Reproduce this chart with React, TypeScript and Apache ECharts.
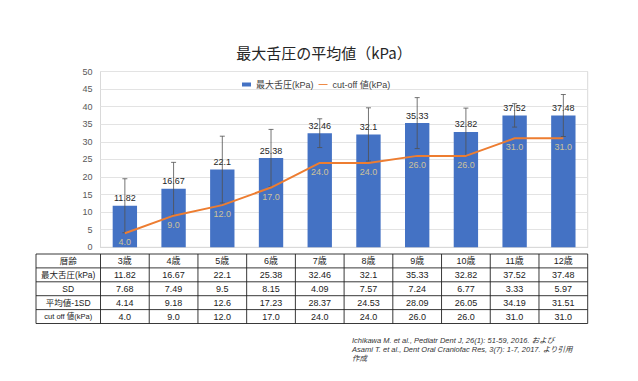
import React, { useEffect, useRef } from 'react';
import * as echarts from 'echarts';

const ages = ['3歳', '4歳', '5歳', '6歳', '7歳', '8歳', '9歳', '10歳', '11歳', '12歳'];
const meanPressure = [11.82, 16.67, 22.1, 25.38, 32.46, 32.1, 35.33, 32.82, 37.52, 37.48];
const sdValues = [7.68, 7.49, 9.5, 8.15, 4.09, 7.57, 7.24, 6.77, 3.33, 5.97];
const meanMinusSD = [4.14, 9.18, 12.6, 17.23, 28.37, 24.53, 28.09, 26.05, 34.19, 31.51];
const cutoff = [4.0, 9.0, 12.0, 17.0, 24.0, 24.0, 26.0, 26.0, 31.0, 31.0];
const rowLabels = ['暦齢', '最大舌圧(kPa)', 'SD', '平均値-1SD', 'cut off 値(kPa)'];
const seriesNames = ['最大舌圧(kPa)', 'cut-off 値(kPa)'];
const titleText = '最大舌圧の平均値（kPa）';
const citation = [
  'Ichikawa M. et al., Pediatr Dent J, 26(1): 51-59, 2016. および',
  'Asami T. et al., Dent Oral Craniofac Res, 3(7): 1-7, 2017. より引用',
  '作成',
];

const FONT = '"Liberation Sans", Arial, "Noto Sans CJK JP", sans-serif';

export default function App() {
  const ref = useRef<HTMLDivElement>(null);
  useEffect(() => {
    document.body.style.margin = '0';
    const chart = echarts.init(ref.current!, undefined, { renderer: 'svg' });
    const option: any = {
      animation: false,
      backgroundColor: '#ffffff',
      textStyle: { fontFamily: FONT },
      grid: { left: 100.5, right: 50.3, top: 71.5, bottom: 133.7, show: true, borderColor: '#d9d9d9', borderWidth: 1 },
      legend: {
        data: [
          { name: seriesNames[0], icon: 'rect' },
          { name: seriesNames[1], icon: 'path://M0,0 L20,0 L20,2 L0,2 Z', itemStyle: { color: '#ED7D31' }, lineStyle: { width: 0 } },
        ],
        top: 80,
        left: 242,
        padding: 0,
        itemWidth: 9,
        itemHeight: 4,
        itemGap: 5,
        textStyle: { fontSize: 9, color: '#404040', fontFamily: FONT },
      },
      xAxis: {
        type: 'category',
        data: ages,
        axisLabel: { show: false },
        axisTick: { show: false },
        axisLine: { lineStyle: { color: '#d9d9d9' } },
      },
      yAxis: {
        type: 'value',
        min: 0,
        max: 50,
        interval: 5,
        axisLabel: { fontSize: 9, color: '#595959', margin: 8 },
        splitLine: { lineStyle: { color: '#e3e3e3', width: 1 } },
        axisLine: { show: false },
      },
      series: [
        {
          name: seriesNames[0],
          type: 'bar',
          data: meanPressure,
          barWidth: '50%',
          itemStyle: { color: '#4472C4' },
          label: { show: true, position: 'top', distance: 3, fontSize: 9, color: '#262626' },
          z: 2,
        },
        {
          name: 'errorbar',
          type: 'custom',
          data: meanPressure.map((m, i) => [i, m - sdValues[i], m + sdValues[i]]),
          renderItem: (params: any, api: any) => {
            const x = api.value(0);
            const lo = api.coord([x, api.value(1)]);
            const hi = api.coord([x, api.value(2)]);
            const cap = 2.5;
            const style = { stroke: '#505050', lineWidth: 0.8 };
            return {
              type: 'group',
              children: [
                { type: 'line', shape: { x1: lo[0], y1: lo[1], x2: hi[0], y2: hi[1] }, style },
                { type: 'line', shape: { x1: hi[0] - cap, y1: hi[1], x2: hi[0] + cap, y2: hi[1] }, style },
                { type: 'line', shape: { x1: lo[0] - cap, y1: lo[1], x2: lo[0] + cap, y2: lo[1] }, style },
              ],
            };
          },
          z: 3,
        },
        {
          name: seriesNames[1],
          type: 'line',
          data: cutoff,
          symbol: 'none',
          lineStyle: { color: '#ED7D31', width: 2 },
          itemStyle: { color: '#ED7D31' },
          z: 4,
        },
        {
          name: 'cutoffLabels',
          type: 'scatter',
          data: cutoff,
          symbolSize: 1,
          itemStyle: { color: 'rgba(0,0,0,0)' },
          label: {
            show: true,
            position: 'bottom',
            distance: 4,
            fontSize: 9,
            color: '#EFD98E',
            formatter: (p: any) => Number(p.value).toFixed(1),
          },
          z: 5,
        },
      ],
    };
    chart.setOption(option);

    const c0 = chart.convertToPixel({ xAxisIndex: 0 }, 0) as number;
    const c1 = chart.convertToPixel({ xAxisIndex: 0 }, 1) as number;
    const bw = c1 - c0;
    const firstLeft = c0 - bw / 2;
    const tableLeft = 36;
    const tableRight = firstLeft + bw * ages.length;
    const tableTop = 254;
    const rowH = 13.9;
    const rows: string[][] = [
      ages,
      meanPressure.map((v) => String(v)),
      sdValues.map((v) => String(v)),
      meanMinusSD.map((v) => String(v)),
      cutoff.map((v) => v.toFixed(1)),
    ];
    const g: any[] = [];
    const lineStyle = { stroke: '#222', lineWidth: 0.9 };
    for (let r = 0; r <= rows.length; r++) {
      const y = tableTop + r * rowH;
      g.push({ type: 'line', shape: { x1: tableLeft, y1: y, x2: tableRight, y2: y }, style: lineStyle, silent: true });
    }
    const tableBottom = tableTop + rows.length * rowH;
    g.push({ type: 'line', shape: { x1: tableLeft, y1: tableTop, x2: tableLeft, y2: tableBottom }, style: lineStyle });
    for (let i = 0; i <= ages.length; i++) {
      const x = firstLeft + i * bw;
      g.push({ type: 'line', shape: { x1: x, y1: tableTop, x2: x, y2: tableBottom }, style: lineStyle });
    }
    rows.forEach((row, r) => {
      const cy = tableTop + r * rowH + rowH / 2;
      g.push({
        type: 'text',
        x: (tableLeft + firstLeft) / 2,
        y: cy,
        style: {
          text: rowLabels[r],
          fontSize: r === 4 ? 7.5 : 8.5,
          fill: '#222',
          fontFamily: FONT,
          textAlign: 'center',
          textVerticalAlign: 'middle',
        },
      });
      row.forEach((t, i) => {
        g.push({
          type: 'text',
          x: c0 + i * bw,
          y: cy,
          style: { text: t, fontSize: 9, fill: '#222', fontFamily: FONT, textAlign: 'center', textVerticalAlign: 'middle' },
        });
      });
    });
    g.push({
      type: 'text',
      x: 324,
      y: 52,
      style: {
        text: titleText,
        fontSize: 15,
        fill: '#262626',
        fontFamily: '"Noto Sans CJK JP", sans-serif',
        textAlign: 'center',
        textVerticalAlign: 'middle',
      },
    });
    citation.forEach((t, i) => {
      g.push({
        type: 'text',
        x: 352,
        y: 340 + i * 9,
        style: {
          text: t,
          fontSize: 7.5,
          fontStyle: 'italic',
          fill: '#333',
          fontFamily: FONT,
          textAlign: 'left',
          textVerticalAlign: 'middle',
        },
      });
    });
    chart.setOption({ graphic: g });

    return () => chart.dispose();
  }, []);
  return <div ref={ref} style={{ position: 'fixed', left: 0, top: 0, width: 638, height: 381 }} />;
}
